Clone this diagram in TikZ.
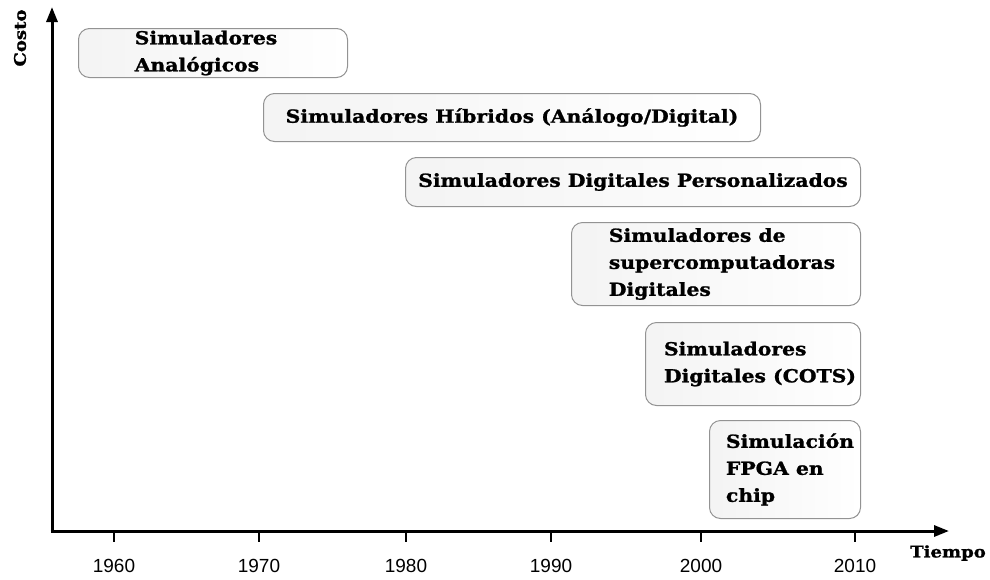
\documentclass[tikz,border=0pt]{standalone}
\usepackage{fontspec}
\setmainfont{DejaVu Serif}
\newfontfamily\boxfont[FakeStretch=1.13,FakeBold=1.2]{DejaVu Serif Bold}
\newfontfamily\yearfont{Liberation Sans}
\usetikzlibrary{arrows.meta}
\tikzset{
  era/.style={draw=gray!85, line width=1pt, rounded corners=11pt,
    left color=gray!9, right color=white, anchor=north west,
    font=\boxfont\fontsize{18}{27}\selectfont, align=left, inner sep=0pt},
  axisline/.style={line width=3pt, -{Triangle[length=15pt,width=11pt]}},
  tickmark/.style={line width=1.5pt},
  yearlbl/.style={font=\yearfont\fontsize{19}{22}\selectfont},
  axislbl/.style={font=\boxfont\fontsize{16}{18}\selectfont}
}
\begin{document}
\begin{tikzpicture}[x=1pt,y=-1pt]
\useasboundingbox (0,0) rectangle (990,579);
\coordinate (O) at (52,531);
\coordinate (ytop) at (52,7);
\coordinate (xend) at (949,531);
\draw[axisline] (O) -- (ytop);
\draw[axisline] ([xshift=-1.5pt]O) -- (xend);
\node[axislbl, rotate=90] (costo) at (20,38) {Costo};
\node[axislbl] (tiempo) at (948,553) {Tiempo};
\foreach \yr/\px in {1960/114,1970/259,1980/406,1990/551,2000/701,2010/855}{
  \coordinate (t\yr) at (\px,532);
  \draw[tickmark] (t\yr) -- ++(0,10);
  \node[yearlbl] (l\yr) at (\px,566) {\yr};
}
\node[era, minimum width=269pt, minimum height=49pt] (b1) at (78,28) {Simuladores\hspace*{14pt}\\Analógicos};
\node[era, minimum width=497pt, minimum height=48pt] (b2) at (263,93) {Simuladores Híbridos (Análogo/Digital)};
\node[era, minimum width=455pt, minimum height=49pt] (b3) at (405,157) {Simuladores Digitales Personalizados};
\node[era, minimum width=289pt, minimum height=83pt] (b4) at (571,222) {\hspace*{12pt}Simuladores de\\\hspace*{12pt}supercomputadoras\\\hspace*{12pt}Digitales};
\node[era, minimum width=215pt, minimum height=83pt] (b5) at (645,322) {\hspace*{14pt}Simuladores\\\hspace*{14pt}Digitales (COTS)};
\node[era, minimum width=151pt, minimum height=98pt] (b6) at (709,420) {\hspace*{10pt}Simulación\\\hspace*{10pt}FPGA en\\\hspace*{10pt}chip};
\end{tikzpicture}
\end{document}
